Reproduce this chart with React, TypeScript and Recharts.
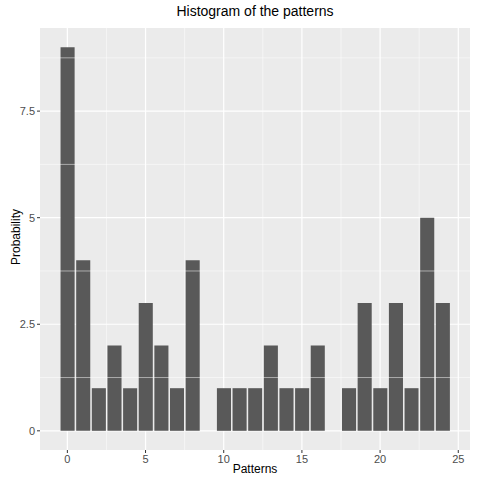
import { ComposedChart, Bar, XAxis, YAxis, CartesianGrid, ReferenceLine } from 'recharts';

const patterns = [0, 1, 2, 3, 4, 5, 6, 7, 8, 9, 10, 11, 12, 13, 14, 15, 16, 17, 18, 19, 20, 21, 22, 23, 24];
const counts = [9, 4, 1, 2, 1, 3, 2, 1, 4, 0, 1, 1, 1, 2, 1, 1, 2, 0, 1, 3, 1, 3, 1, 5, 3];
const xTicks = [0, 5, 10, 15, 20, 25];
const yTicks = [0, 2.5, 5, 7.5];
const xMinor = [-2.5, 2.5, 7.5, 12.5, 17.5, 22.5];
const yMinor = [1.25, 3.75, 6.25, 8.75];

const data = patterns.map((p, i) => ({ p, n: counts[i] }));
const tick = { fontSize: 11, fill: '#4D4D4D', fontFamily: 'Liberation Sans, Arial, sans-serif' };

export default function App() {
  document.body.style.margin = '0';
  return (
    <div style={{ position: 'relative', width: 480, height: 480, background: '#fff', fontFamily: 'Liberation Sans, Arial, sans-serif' }}>
      <div style={{ position: 'absolute', top: 3, width: 480, textAlign: 'center', fontSize: 14, color: '#000', marginLeft: 15 }}>
        Histogram of the patterns
      </div>
      <div style={{ position: 'absolute', top: 462, width: 480, textAlign: 'center', fontSize: 12, marginLeft: 15 }}>Patterns</div>
      <div style={{ position: 'absolute', left: -24, top: 230, width: 80, textAlign: 'center', fontSize: 12, transform: 'rotate(-90deg)' }}>Probability</div>
      <ComposedChart width={480} height={480} data={data} margin={{ top: 28, right: 10, bottom: 12, left: 12 }}>
        <CartesianGrid fill="#EBEBEB" stroke="#fff" strokeWidth={1.2} horizontalValues={yTicks} verticalValues={xTicks} />
        {xMinor.map((v) => <ReferenceLine key={'x' + v} x={v} stroke="#fff" strokeWidth={0.5} ifOverflow="hidden" />)}
        {yMinor.map((v) => <ReferenceLine key={'y' + v} y={v} stroke="#fff" strokeWidth={0.5} />)}
        <XAxis dataKey="p" type="number" domain={[-1.75, 25.75]} ticks={xTicks} allowDataOverflow tick={tick} tickSize={3} axisLine={false} tickLine={{ stroke: '#333' }} height={18} />
        <YAxis type="number" domain={[-0.45, 9.45]} ticks={yTicks} allowDataOverflow tick={tick} tickSize={3} axisLine={false} tickLine={{ stroke: '#333' }} width={28} />
        <Bar dataKey="n" fill="#595959" barSize={15.8} isAnimationActive={false} />
      </ComposedChart>
    </div>
  );
}
